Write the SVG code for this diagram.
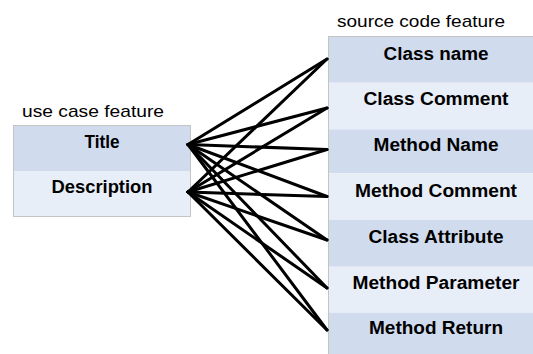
<svg xmlns="http://www.w3.org/2000/svg" width="533" height="354" viewBox="0 0 533 354">
<style>
.cap{font-family:"Liberation Sans",Arial,sans-serif;font-size:17px;fill:#000}
.lbl{font-family:"Liberation Sans",Arial,sans-serif;font-size:18px;font-weight:bold;fill:#000;text-anchor:middle}
.dk{fill:#d0dcee}
.lt{fill:#e8eef7}
.box{fill:none;stroke:#c4c4c4;stroke-width:1}
.con line{stroke:#000;stroke-width:3;stroke-linecap:round}
</style>
<rect width="533" height="354" fill="#ffffff"/>
<text class="cap" x="22" y="117" textLength="142" lengthAdjust="spacingAndGlyphs">use case feature</text>
<text class="cap" x="337" y="27" textLength="168" lengthAdjust="spacingAndGlyphs">source code feature</text>
<g id="usecase">
  <g id="uc-title"><rect class="dk" x="13.5" y="125.5" width="177" height="45.5"/><text class="lbl" x="102" y="147.5" textLength="35" lengthAdjust="spacingAndGlyphs">Title</text></g>
  <g id="uc-description"><rect class="lt" x="13.5" y="171" width="177" height="45.5"/><text class="lbl" x="102" y="193" textLength="101" lengthAdjust="spacingAndGlyphs">Description</text></g>
  <rect class="box" x="13.5" y="125.5" width="177" height="91"/>
</g>
<g id="source">
  <g id="sc-classname"><rect class="dk" x="328.5" y="36.5" width="210" height="46.2"/><text class="lbl" x="436" y="59.5" textLength="105" lengthAdjust="spacingAndGlyphs">Class name</text></g>
  <g id="sc-classcomment"><rect class="lt" x="328.5" y="82.7" width="210" height="46.6"/><text class="lbl" x="436" y="105" textLength="145" lengthAdjust="spacingAndGlyphs">Class Comment</text></g>
  <g id="sc-methodname"><rect class="dk" x="328.5" y="129.3" width="210" height="44"/><text class="lbl" x="436" y="150.5" textLength="125" lengthAdjust="spacingAndGlyphs">Method Name</text></g>
  <g id="sc-methodcomment"><rect class="lt" x="328.5" y="173.3" width="210" height="46.7"/><text class="lbl" x="436" y="196.7" textLength="162" lengthAdjust="spacingAndGlyphs">Method Comment</text></g>
  <g id="sc-classattribute"><rect class="dk" x="328.5" y="220" width="210" height="46.7"/><text class="lbl" x="436" y="242.7" textLength="135" lengthAdjust="spacingAndGlyphs">Class Attribute</text></g>
  <g id="sc-methodparameter"><rect class="lt" x="328.5" y="266.7" width="210" height="46"/><text class="lbl" x="436" y="288.5" textLength="167" lengthAdjust="spacingAndGlyphs">Method Parameter</text></g>
  <g id="sc-methodreturn"><rect class="dk" x="328.5" y="312.7" width="210" height="46"/><text class="lbl" x="436" y="333.5" textLength="134" lengthAdjust="spacingAndGlyphs">Method Return</text></g>
  <rect class="box" x="328.5" y="36.5" width="210" height="322"/>
</g>
<g id="connectors" class="con">
  <line x1="188" y1="144.5" x2="327" y2="59"/>
  <line x1="188" y1="144.5" x2="327" y2="108"/>
  <line x1="188" y1="144.5" x2="327" y2="149.5"/>
  <line x1="188" y1="144.5" x2="327" y2="196.5"/>
  <line x1="188" y1="144.5" x2="327" y2="240"/>
  <line x1="188" y1="144.5" x2="327" y2="288"/>
  <line x1="188" y1="144.5" x2="327" y2="330"/>
  <line x1="188" y1="192" x2="327" y2="59"/>
  <line x1="188" y1="192" x2="327" y2="108"/>
  <line x1="188" y1="192" x2="327" y2="149.5"/>
  <line x1="188" y1="192" x2="327" y2="196.5"/>
  <line x1="188" y1="192" x2="327" y2="240"/>
  <line x1="188" y1="192" x2="327" y2="288"/>
  <line x1="188" y1="192" x2="327" y2="330"/>
</g>
</svg>
